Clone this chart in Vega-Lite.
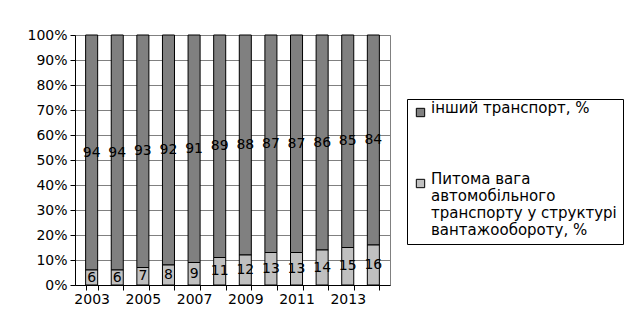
{
  "$schema": "https://vega.github.io/schema/vega-lite/v6.json",
  "autosize": {"type": "none"},
  "width": 315,
  "height": 250,
  "padding": {"left": 75, "top": 35, "right": 239, "bottom": 29},
  "background": "white",
  "config": {
    "font": "DejaVu Sans",
    "view": {"stroke": "#808080", "strokeWidth": 1},
    "axis": {"labelFont": "DejaVu Sans", "labelFontSize": 14, "labelColor": "black", "domainColor": "black", "tickColor": "black"}
  },
  "data": {
    "values": [
      {"year": "2003", "series": "інший транспорт, %", "value": 94},
      {"year": "2004", "series": "інший транспорт, %", "value": 94},
      {"year": "2005", "series": "інший транспорт, %", "value": 93},
      {"year": "2006", "series": "інший транспорт, %", "value": 92},
      {"year": "2007", "series": "інший транспорт, %", "value": 91},
      {"year": "2008", "series": "інший транспорт, %", "value": 89},
      {"year": "2009", "series": "інший транспорт, %", "value": 88},
      {"year": "2010", "series": "інший транспорт, %", "value": 87},
      {"year": "2011", "series": "інший транспорт, %", "value": 87},
      {"year": "2012", "series": "інший транспорт, %", "value": 86},
      {"year": "2013", "series": "інший транспорт, %", "value": 85},
      {"year": "2014", "series": "інший транспорт, %", "value": 84},
      {"year": "2003", "series": "Питома вага автомобільного транспорту у структурі вантажообороту, %", "value": 6},
      {"year": "2004", "series": "Питома вага автомобільного транспорту у структурі вантажообороту, %", "value": 6},
      {"year": "2005", "series": "Питома вага автомобільного транспорту у структурі вантажообороту, %", "value": 7},
      {"year": "2006", "series": "Питома вага автомобільного транспорту у структурі вантажообороту, %", "value": 8},
      {"year": "2007", "series": "Питома вага автомобільного транспорту у структурі вантажообороту, %", "value": 9},
      {"year": "2008", "series": "Питома вага автомобільного транспорту у структурі вантажообороту, %", "value": 11},
      {"year": "2009", "series": "Питома вага автомобільного транспорту у структурі вантажообороту, %", "value": 12},
      {"year": "2010", "series": "Питома вага автомобільного транспорту у структурі вантажообороту, %", "value": 13},
      {"year": "2011", "series": "Питома вага автомобільного транспорту у структурі вантажообороту, %", "value": 13},
      {"year": "2012", "series": "Питома вага автомобільного транспорту у структурі вантажообороту, %", "value": 14},
      {"year": "2013", "series": "Питома вага автомобільного транспорту у структурі вантажообороту, %", "value": 15},
      {"year": "2014", "series": "Питома вага автомобільного транспорту у структурі вантажообороту, %", "value": 16}
    ]
  },
  "transform": [
    {"calculate": "datum.series == 'інший транспорт, %' ? 2 : 1", "as": "ord"}
  ],
  "encoding": {
    "x": {
      "field": "year", "type": "nominal", "title": null,
      "scale": {"paddingInner": 0.53, "paddingOuter": 0.415},
      "axis": {"labelAngle": 0, "labelExpr": "(+datum.value) % 2 == 1 ? datum.value : ''", "ticks": true, "bandPosition": 1, "tickBand": "extent", "tickSize": 5, "labelPadding": 2, "grid": false}
    },
    "y": {
      "field": "value", "type": "quantitative", "stack": "zero", "title": null,
      "scale": {"domain": [0, 100], "nice": false},
      "axis": {"values": [0,10,20,30,40,50,60,70,80,90,100], "labelExpr": "datum.value + '%'", "grid": true, "gridColor": "#808080", "gridOpacity": 1, "tickSize": 5, "labelPadding": 3}
    },
    "order": {"field": "ord", "type": "quantitative"}
  },
  "layer": [
    {
      "mark": {"type": "bar", "stroke": "black", "strokeWidth": 1},
      "encoding": {
        "color": {
          "field": "series", "type": "nominal",
          "scale": {"domain": ["інший транспорт, %", "Питома вага автомобільного транспорту у структурі вантажообороту, %"], "range": ["#808080", "#c0c0c0"]},
          "legend": {
            "title": null, "orient": "none", "legendX": 332, "legendY": 64,
            "strokeColor": "black", "padding": 6, "symbolType": "square", "symbolSize": 70,
            "symbolStrokeColor": "black", "symbolStrokeWidth": 1,
            "labelFont": "DejaVu Sans", "labelFontSize": 15, "labelColor": "black", "labelLimit": 300,
            "labelBaseline": "alphabetic", "labelOffset": 3,
            "rowPadding": 52,
            "labelExpr": "datum.label == 'інший транспорт, %' ? datum.label : ['Питома вага', 'автомобільного', 'транспорту у структурі', 'вантажообороту, %']"
          }
        }
      }
    },
    {
      "mark": {"type": "text", "font": "DejaVu Sans", "fontSize": 14, "color": "black"},
      "encoding": {
        "y": {"field": "value", "type": "quantitative", "stack": "zero", "bandPosition": 0.5},
        "text": {"field": "value", "type": "quantitative"}
      }
    }
  ]
}
